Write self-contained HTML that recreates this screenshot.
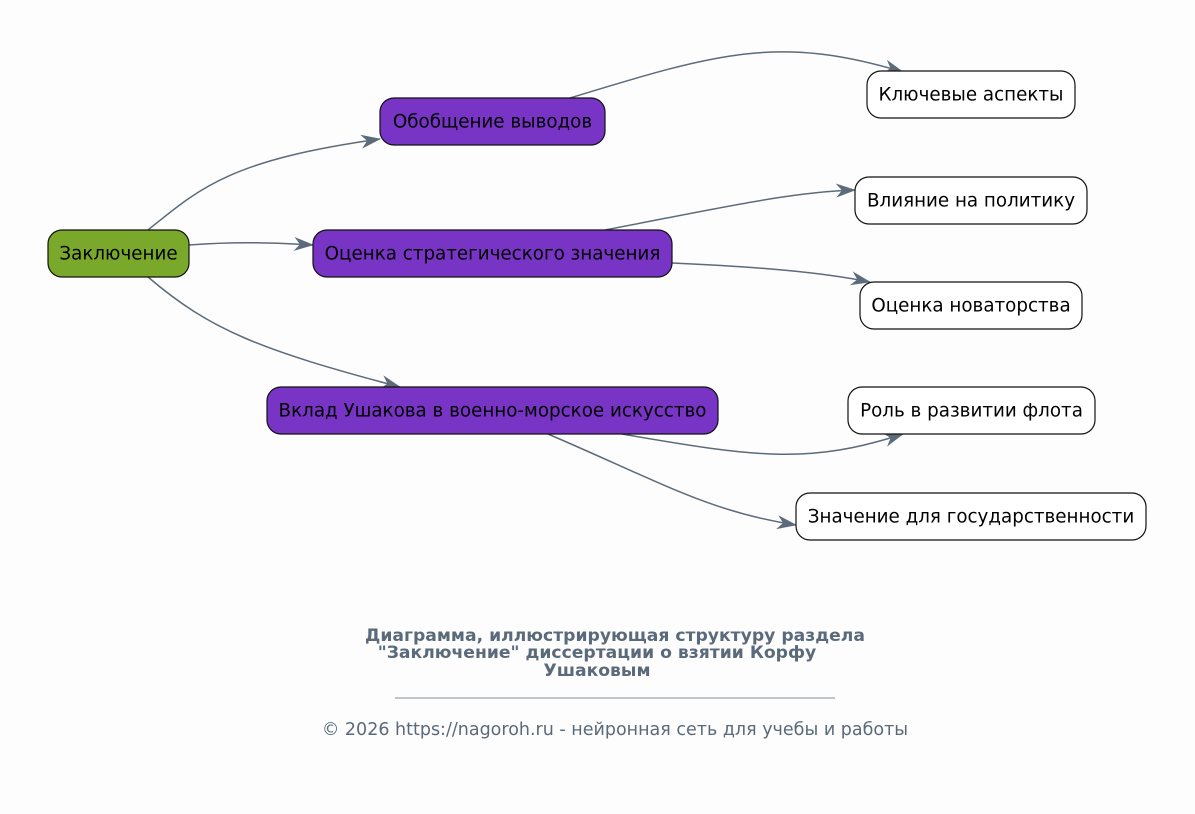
<!DOCTYPE html>
<html><head><meta charset="utf-8"><style>
html,body{margin:0;padding:0;background:#fdfdfd;}
svg{display:block;}
text{font-family:"DejaVu Sans","Liberation Sans",sans-serif;}
</style></head><body>
<svg width="1195" height="814" viewBox="0 0 1195 814" xmlns="http://www.w3.org/2000/svg">
<defs>
<marker id="a" viewBox="0 0 20 14" refX="19" refY="7" markerWidth="20" markerHeight="14" markerUnits="userSpaceOnUse" orient="auto">
<path d="M0,0 L20,7 L0,14 L6,7 Z" fill="#5c6b7a"/>
</marker>
</defs>
<g fill="none" stroke="#5c6b7a" stroke-width="1.5">
<path d="M148,230 C200,188 230,160 380,139" marker-end="url(#a)"/>
<path d="M189,245 C230,242 260,242 313,245" marker-end="url(#a)"/>
<path d="M148,277 C210,330 260,350 400,387" marker-end="url(#a)"/>
<path d="M570,98 C720,52 780,35 903,72" marker-end="url(#a)"/>
<path d="M605,230 C720,208 790,192 855,190" marker-end="url(#a)"/>
<path d="M672,263 C760,267 820,272 870,282" marker-end="url(#a)"/>
<path d="M622,434 C760,458 810,464 903,434" marker-end="url(#a)"/>
<path d="M548,434 C660,482 710,512 796,525" marker-end="url(#a)"/>
</g>
<g stroke="#111" stroke-width="1.2">
<rect x="48" y="230" width="141" height="47" rx="14" fill="#7aa82a"/>
<rect x="380" y="98" width="225" height="47" rx="14" fill="#7834c5"/>
<rect x="313" y="230" width="359" height="47" rx="14" fill="#7834c5"/>
<rect x="267" y="387" width="451" height="47" rx="14" fill="#7834c5"/>
<rect x="867" y="71" width="208" height="47" rx="14" fill="#fff"/>
<rect x="855" y="177" width="232" height="47" rx="14" fill="#fff"/>
<rect x="860" y="282" width="222" height="47" rx="14" fill="#fff"/>
<rect x="848" y="387" width="247" height="47" rx="14" fill="#fff"/>
<rect x="796" y="493" width="350" height="47" rx="14" fill="#fff"/>
</g>
<g font-size="18.3" text-anchor="middle" fill="#000">
<text x="118.5" y="259.5">Заключение</text>
<text x="492.5" y="127.5">Обобщение выводов</text>
<text x="492.5" y="259.5">Оценка стратегического значения</text>
<text x="492.5" y="416.5">Вклад Ушакова в военно-морское искусство</text>
<text x="971" y="100.5">Ключевые аспекты</text>
<text x="971" y="206.5">Влияние на политику</text>
<text x="971" y="311.5">Оценка новаторства</text>
<text x="971.5" y="416.5">Роль в развитии флота</text>
<text x="971" y="522.5">Значение для государственности</text>
</g>
<g font-size="17.2" font-weight="bold" fill="#5a6a7a" text-anchor="middle">
<text x="615" y="641">Диаграмма, иллюстрирующая структуру раздела</text>
<text x="597" y="658">"Заключение" диссертации о взятии Корфу</text>
<text x="597" y="676">Ушаковым</text>
</g>
<line x1="395" y1="698" x2="835" y2="698" stroke="#5a6a7a" stroke-width="0.8"/>
<text x="615" y="735" font-size="17.5" fill="#5a6a7a" text-anchor="middle">© 2026 https://nagoroh.ru - нейронная сеть для учебы и работы</text>
</svg>
</body></html>
